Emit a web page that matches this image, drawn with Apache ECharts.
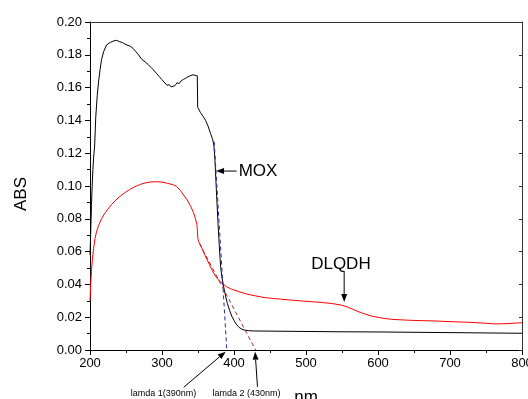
<!DOCTYPE html>
<html><head><meta charset="utf-8">
<script src="https://cdn.jsdelivr.net/npm/echarts@6/dist/echarts.min.js"></script>
<style>html,body{margin:0;padding:0;background:#fff}#c{width:528px;height:399px}</style>
</head><body><div id="c"></div>
<script>
// ---- data ----
const moxX = [200,201,202,203,204,205,206.5,208,210,212,214,216,219,223,228,233,237,241,245,250,256,260,266,272,277,281,285,288,292,296,300,304,307,310,312.6,315,318,321,324,327,330,333,336,339,341,343,346,348,349,349.6,351,353.5,357,360.5,364,367.4,370,372,373.5,375,377.6,379.5,381.4,383,385,388,390.7,394,397,400,403,407,411,414,420,428,450,500,550,600,650,700,750,800];
const moxY = [0.058,0.072,0.088,0.100,0.110,0.117,0.125,0.142,0.155,0.164,0.171,0.177,0.182,0.186,0.1875,0.1885,0.1888,0.1880,0.1875,0.1862,0.1852,0.1838,0.1808,0.1772,0.1755,0.1740,0.1722,0.1708,0.1688,0.1668,0.1648,0.1628,0.1614,0.1618,0.1604,0.1615,0.1612,0.1630,0.1625,0.1643,0.1650,0.1658,0.1665,0.1672,0.1668,0.1678,0.1675,0.1680,0.1672,0.1480,0.1470,0.1447,0.1425,0.1400,0.1365,0.1320,0.1290,0.1250,0.1160,0.1020,0.0790,0.0640,0.0510,0.0450,0.0400,0.0335,0.0285,0.0240,0.0205,0.0180,0.0158,0.0138,0.0127,0.0122,0.0118,0.0116,0.0115,0.0113,0.0111,0.0110,0.0108,0.0106,0.0104,0.0102];
const dlqX = [200,201,202,203.5,205,207,209,212,216,220,225,230,236,242,248,255,262,270,278,285,292,300,308,315,320,325.6,330,335,340,344,346.5,348.5,349.3,349.8,351,353.5,357,360,362.8,366,369,372,376,380,383.7,390,395,400,408,418.6,430,441.8,455,465,480,493,510,521,535,549,558,567,578,590.7,605,618.6,640,660,679,700,720,735,750,763,775,790,800];
const dlqY = [0.030,0.040,0.048,0.056,0.062,0.068,0.072,0.076,0.080,0.083,0.086,0.0888,0.0915,0.0938,0.0958,0.0978,0.0995,0.1010,0.1020,0.1025,0.1026,0.1024,0.1016,0.1008,0.0998,0.0972,0.0945,0.0915,0.0875,0.0835,0.0800,0.0765,0.0720,0.0680,0.0660,0.0640,0.0605,0.0575,0.0549,0.0520,0.0492,0.0467,0.0440,0.0420,0.0406,0.0385,0.0374,0.0366,0.0354,0.0340,0.0330,0.0320,0.0314,0.0310,0.0304,0.0299,0.0294,0.0290,0.0284,0.0274,0.0262,0.0244,0.0225,0.0207,0.0195,0.0187,0.0182,0.0179,0.0177,0.0173,0.0170,0.0167,0.0163,0.0159,0.0160,0.0164,0.0166];
const tangent1X = [372.5, 390];
const tangent1Y = [0.127, 0];
const tangent2X = [352, 430];
const tangent2Y = [0.065, 0];
const xTicks = [200,300,400,500,600,700,800];
const yTicks = [0,0.02,0.04,0.06,0.08,0.10,0.12,0.14,0.16,0.18,0.20];

const zip = (a,b) => a.map((v,i)=>[v,b[i]]);
const font = '"Liberation Sans", Arial, sans-serif';
const chart = echarts.init(document.getElementById('c'));
const tickStyle = {color:'#000', width:1};
chart.setOption({
  animation:false,
  grid:{left:90,right:6,top:22,bottom:49, containLabel:false, outerBoundsMode:'none'},
  xAxis:[{
    type:'value', min:xTicks[0], max:xTicks[xTicks.length-1], interval:100,
    axisLine:{onZero:false, lineStyle:{color:'#000', width:1}},
    axisTick:{show:true, length:5, lineStyle:tickStyle},
    minorTick:{show:true, splitNumber:2, length:3, lineStyle:tickStyle},
    splitLine:{show:false},
    axisLabel:{color:'#000', fontSize:13, fontFamily:font, margin:7},
    name:'nm', nameLocation:'middle', nameGap:39,
    nameTextStyle:{fontSize:17, color:'#000', fontFamily:font}
  },{
    type:'value', min:200, max:800, interval:100, position:'top',
    axisLine:{onZero:false, lineStyle:{color:'#333', width:1}},
    axisTick:{show:false}, axisLabel:{show:false}, splitLine:{show:false}
  }],
  yAxis:[{
    type:'value', min:yTicks[0], max:yTicks[yTicks.length-1], interval:0.02,
    axisLine:{show:true, onZero:false, lineStyle:{color:'#000', width:1}},
    axisTick:{show:true, length:5, lineStyle:tickStyle},
    minorTick:{show:true, splitNumber:2, length:3, lineStyle:tickStyle},
    splitLine:{show:false},
    axisLabel:{color:'#000', fontSize:13, fontFamily:font, margin:8, formatter:v=>v.toFixed(2)},
    name:'ABS', nameLocation:'middle', nameGap:60,
    nameTextStyle:{fontSize:17, color:'#000', fontFamily:font, padding:[0,0,0,-16]}
  },{
    type:'value', min:0, max:0.2, interval:0.02, position:'right',
    axisLine:{show:true, onZero:false, lineStyle:{color:'#333', width:1}},
    axisTick:{show:true, inside:true, length:3, lineStyle:{color:'#333'}},
    axisLabel:{show:false}, splitLine:{show:false}
  }],
  series:[
    {type:'line', name:'MOX', data:zip(moxX,moxY), showSymbol:false, symbol:'none',
     lineStyle:{color:'#000', width:1}},
    {type:'line', name:'DLQDH', data:zip(dlqX,dlqY), showSymbol:false, symbol:'none',
     lineStyle:{color:'#ff0000', width:1}},
    {type:'line', name:'t1', data:zip(tangent1X,tangent1Y), symbol:'none',
     lineStyle:{color:'#2a2aa8', width:1, type:[4,3]}},
    {type:'line', name:'t2', data:zip(tangent2X,tangent2Y), symbol:'none',
     lineStyle:{color:'#a82828', width:1, type:[4,3]}}
  ]
});

const px = (x,y) => chart.convertToPixel({gridIndex:0},[x,y]);
function arrow(p0, p1, len, hw){
  len = len||8; hw = hw||3;
  const dx=p1[0]-p0[0], dy=p1[1]-p0[1], L=Math.hypot(dx,dy), ux=dx/L, uy=dy/L;
  const bx=p1[0]-ux*len, by=p1[1]-uy*len;
  return [
    {type:'line', shape:{x1:p0[0],y1:p0[1],x2:bx,y2:by}, style:{stroke:'#000',lineWidth:1}, z:100},
    {type:'polygon', shape:{points:[[p1[0],p1[1]],[bx-uy*hw,by+ux*hw],[bx+uy*hw,by-ux*hw]]}, style:{fill:'#000'}, z:100}
  ];
}
function text(str, p, size, align){
  return {type:'text', x:p[0], y:p[1], z:100,
    style:{text:str, font: size+'px '+font, fill:'#000', align:align||'left', verticalAlign:'middle'}};
}
const g = [];
g.push(...arrow(px(403.7,0.1091), px(375.1,0.1091)));
g.push(text('MOX', px(406.5,0.1091), 17, 'left'));
g.push(...arrow(px(553,0.0482), px(553,0.0293)));
g.push(text('DLQDH', px(548.5,0.0522), 17, 'center'));
g.push(...arrow(px(330.2,-0.0227), px(388.4,-0.001)));
g.push(...arrow(px(432.6,-0.0224), px(429.3,-0.001)));
g.push(text('lamda 1(390nm)', px(302,-0.0265), 9, 'center'));
g.push(text('lamda 2 (430nm)', px(417.5,-0.0265), 9, 'center'));
chart.setOption({graphic:g});
</script>
</body></html>
